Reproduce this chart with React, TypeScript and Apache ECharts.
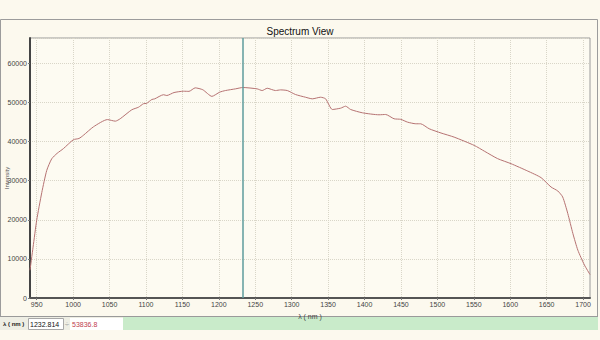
import React, { useEffect, useRef } from "react";
import * as echarts from "echarts";

const wavelengths = [
  940.8, 945, 950, 957, 963.8, 970.6, 978, 986.6, 1000.3, 1008, 1014, 1028, 1047, 1058, 1064.6,
  1080.5, 1089.8, 1096.3, 1101, 1108, 1112, 1124, 1128.6, 1138.5, 1151.6, 1159, 1167.6, 1178,
  1190.5, 1201.2, 1209, 1222.8, 1233, 1252.6, 1259.5, 1266.4, 1277.8, 1284.7, 1294, 1305.3,
  1319, 1328.3, 1339.7, 1346.6, 1355.8, 1367.2, 1374, 1381, 1397, 1419.9, 1429, 1440.5,
  1449.7, 1459, 1470.4, 1477, 1488.7, 1505, 1523, 1550.6, 1565, 1582.7, 1601, 1624, 1642.3,
  1656, 1665.3, 1672, 1679, 1686, 1692.8, 1701.9, 1709.5,
];
const intensities = [
  7100, 13000, 19900, 27000, 32650, 35600, 37000, 38200, 40480, 40800, 41600, 43800, 45630,
  45230, 45840, 48140, 48800, 49670, 49800, 50770, 50940, 51990, 51790, 52550, 52890, 52850,
  53750, 53260, 51570, 52650, 53060, 53490, 53840, 53490, 53060, 53650, 53060, 53230, 53060,
  52040, 51350, 50940, 51350, 50940, 48210, 48550, 49060, 48210, 47370, 46860, 46940, 45840,
  45700, 44980, 44560, 44560, 43290, 42200, 41150, 39030, 37500, 35640, 34360, 32470, 30790,
  28390, 27370, 25840, 21610, 16500, 12240, 8420, 6000,
];
const xTicks = [950, 1000, 1050, 1100, 1150, 1200, 1250, 1300, 1350, 1400, 1450, 1500, 1550, 1600, 1650, 1700];
const cursorWavelength = 1232.814;
const cursorIntensity = "53836.8";
const title = "Spectrum View";

const BG = "#fcf9ee";

export default function App() {
  const ref = useRef<HTMLDivElement>(null);
  useEffect(() => {
    document.body.style.margin = "0";
    const chart = echarts.init(ref.current!, undefined, { renderer: "svg" });
    const font = "Liberation Sans, Arial, sans-serif";
    chart.setOption({
      animation: false,
      backgroundColor: BG,
      title: {
        text: title,
        left: "center",
        top: 21,
        textStyle: { fontSize: 10, fontWeight: "normal", color: "#111", fontFamily: font },
      },
      grid: {
        left: 30,
        right: 10,
        top: 38,
        bottom: 42,
        show: true,
        borderColor: "#9a9a9a",
        borderWidth: 1,
        backgroundColor: "#fdfbf2",
      },
      xAxis: {
        type: "value",
        min: 940.8,
        max: 1709.5,
        name: "λ ( nm )",
        nameLocation: "middle",
        nameGap: 11,
        nameTextStyle: { fontSize: 7, color: "#444", fontFamily: font },
        axisLine: { show: true, lineStyle: { color: "#555", width: 2 } },
        axisTick: { show: true, length: 2, customValues: xTicks, lineStyle: { color: "#777" } },
        axisLabel: {
          fontSize: 7,
          color: "#444",
          margin: 3,
          fontFamily: font,
          customValues: xTicks,
          formatter: (v: number) => String(v),
        },
        splitLine: { show: true, lineStyle: { color: "#d9d6c8", type: "dotted", width: 1 } },
      },
      yAxis: {
        type: "value",
        min: 0,
        max: 66500,
        interval: 10000,
        axisLine: { show: true, lineStyle: { color: "#444", width: 2 } },
        axisTick: { show: true, length: 2, lineStyle: { color: "#777" } },
        axisLabel: {
          fontSize: 7,
          color: "#444",
          margin: 3,
          fontFamily: font,
          showMaxLabel: false,
          formatter: (v: number) => String(v),
        },
        splitLine: { show: true, lineStyle: { color: "#d9d6c8", type: "dotted", width: 1 } },
      },
      series: [
        {
          type: "line",
          data: wavelengths.map((w, i) => [w, intensities[i]]),
          showSymbol: false,
          smooth: 0.2,
          lineStyle: { color: "#b57272", width: 1 },
          markLine: {
            silent: true,
            symbol: "none",
            label: { show: false },
            lineStyle: { color: "#5e9d9d", width: 1.5, type: "solid" },
            data: [{ xAxis: cursorWavelength }],
          },
        },
      ],
      graphic: [
        {
          type: "rect",
          shape: { x: 0.5, y: 19.5, width: 597, height: 297 },
          style: { fill: "none", stroke: "#9c9c9c", lineWidth: 1 },
          silent: true,
        },
        {
          type: "text",
          x: 7,
          y: 178,
          rotation: Math.PI / 2,
          style: { text: "Intensity", fontSize: 6, fill: "#555", align: "center", verticalAlign: "middle", fontFamily: font },
        },
        { type: "rect", shape: { x: 0, y: 317, width: 123, height: 13 }, style: { fill: "#eeeee4" } },
        { type: "rect", shape: { x: 123, y: 317, width: 475, height: 13 }, style: { fill: "#c9ebca" } },
        { type: "line", shape: { x1: 0, y1: 316.5, x2: 598, y2: 316.5 }, style: { stroke: "#9a9a9a", lineWidth: 1 } },
        {
          type: "text",
          x: 3,
          y: 324,
          style: { text: "λ ( nm )", fontSize: 6, fontWeight: "bold", fill: "#222", verticalAlign: "middle", fontFamily: font },
        },
        {
          type: "rect",
          shape: { x: 28.5, y: 318.5, width: 35, height: 11 },
          style: { fill: "#ffffff", stroke: "#a8a8a8", lineWidth: 1 },
        },
        {
          type: "text",
          x: 30,
          y: 324,
          style: { text: String(cursorWavelength), fontSize: 7, fill: "#111", verticalAlign: "middle", fontFamily: font },
        },
        {
          type: "text",
          x: 67,
          y: 324,
          style: { text: "÷", fontSize: 8, fill: "#999", align: "center", verticalAlign: "middle", fontFamily: font },
        },
        { type: "rect", shape: { x: 70, y: 318, width: 53, height: 12 }, style: { fill: "#ffffff" } },
        {
          type: "text",
          x: 72,
          y: 324,
          style: { text: cursorIntensity, fontSize: 7, fill: "#c0404f", verticalAlign: "middle", fontFamily: font },
        },
      ],
    });
    return () => chart.dispose();
  }, []);
  return <div ref={ref} style={{ width: 600, height: 340 }} />;
}
